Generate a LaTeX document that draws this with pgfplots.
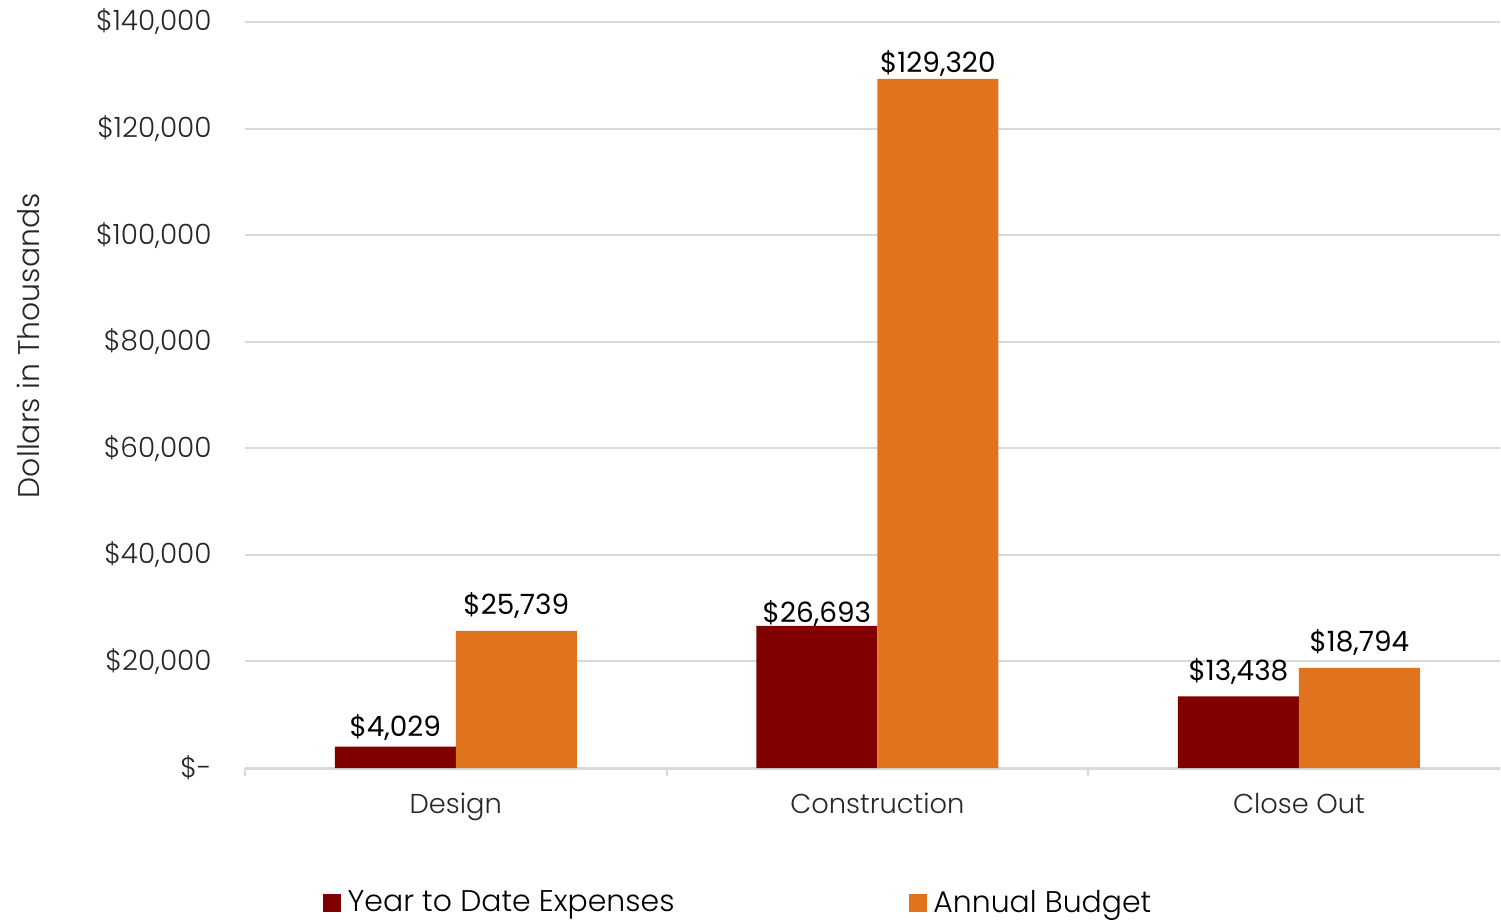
\documentclass[border=0pt]{standalone}
\usepackage{fontspec}
\setmainfont{Poppins}[UprightFont=* Light]
\newfontfamily\labfont{Poppins}
\usepackage{pgfplots}
\usepackage{pgfplotstable}
\pgfplotsset{compat=1.18}
\definecolor{ytd}{RGB}{128,0,0}
\definecolor{bud}{RGB}{224,115,30}
\definecolor{gridc}{RGB}{217,217,217}

% x, value, label offset (bp)
\pgfplotstableread{
x ytd ytddy bud buddy
0 4029 0 25739 3
1 26693 -3.5 129320 -2
2 13438 3 18794 3
}\costs

\begin{document}
\begin{tikzpicture}
\useasboundingbox (-122.5bp,-77bp) rectangle (628bp,384bp);
\begin{axis}[
  at={(0,0)}, anchor=south west,
  scale only axis, width=627.5bp, height=373bp,
  ybar=0pt, bar width=60.5bp,
  xmin=-0.5, xmax=2.477, ymin=0, ymax=140000,
  xtick={0,1,2}, xticklabels={Design,Construction,Close Out},
  minor xtick={-0.5,0.5,1.5},
  ytick={0,20000,...,140000}, scaled y ticks=false,
  yticklabels={{\$-\hspace{7.5bp}},{\$20,000},{\$40,000},{\$60,000},{\$80,000},{\$100,000},{\$120,000},{\$140,000}},
  axis x line*=bottom, axis y line*=left,
  y axis line style={draw=none},
  x axis line style={gridc, line width=1.5bp},
  tick align=outside,
  major tick length=0pt, minor tick length=4bp,
  xtick style={gridc, line width=1bp},
  ytick style={draw=none},
  ymajorgrids, major grid style={gridc, line width=1bp},
  yticklabel style={anchor=east, inner sep=0pt, xshift=-16.5bp, font=\fontsize{14}{16}\selectfont, text=black!85},
  xticklabel style={anchor=north, inner sep=0pt, yshift=-12.5bp, font=\fontsize{13.7}{16}\selectfont, text=black!85},
  ylabel={Dollars in Thousands},
  ylabel style={at={(axis description cs:-0.1729,0.566)}, anchor=center, font=\fontsize{15}{17}\selectfont, text=black!85},
  /pgf/number format/.cd, fixed, 1000 sep={,}, assume math mode=true, /pgfplots/.cd,
  nodes near coords={\$\pgfmathprintnumber{\pgfplotspointmeta}},
  every node near coord/.append style={font=\labfont\fontsize{14}{16}\selectfont, black, anchor=south, inner sep=0pt, yshift=3bp+\dy bp},
  legend style={at={(axis description cs:0.3936,-0.181)}, anchor=center, draw=none, fill=none,
    legend columns=2, /tikz/every even column/.append style={column sep=115bp},
    /tikz/every odd column/.append style={column sep=1.5bp},
    font=\fontsize{15}{17}\selectfont},
  legend image code/.code={\fill[#1] (0bp,-4.5bp) rectangle (9bp,4.5bp);},
]
\addplot[fill=ytd, draw=none, visualization depends on={\thisrow{ytddy} \as \dy}] table[x=x, y=ytd] {\costs};
\addplot[fill=bud, draw=none, visualization depends on={\thisrow{buddy} \as \dy}] table[x=x, y=bud] {\costs};
\legend{Year to Date Expenses, Annual Budget}
\end{axis}
\end{tikzpicture}
\end{document}
